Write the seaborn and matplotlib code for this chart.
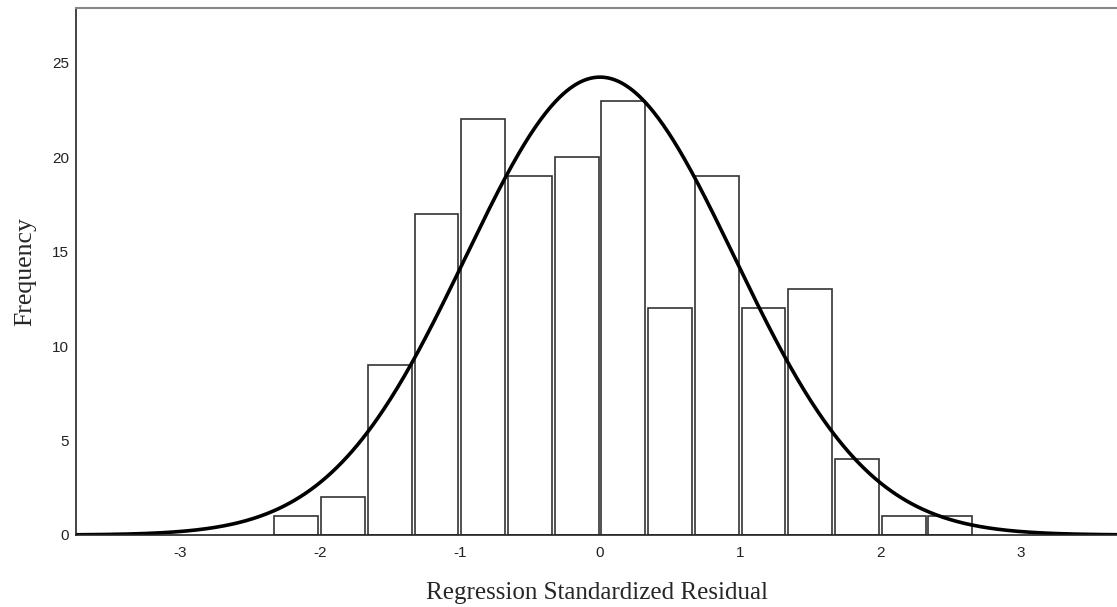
import numpy as np
import pandas as pd
import matplotlib
matplotlib.use("Agg")
import matplotlib.pyplot as plt
import seaborn as sns

# Histogram data (bin edges of width 1/3, counts)
bin_left = [-7/3, -2, -5/3, -4/3, -1, -2/3, -1/3, 0, 1/3, 2/3, 1, 4/3, 5/3, 2, 7/3]
counts = [1, 2, 9, 17, 22, 19, 20, 23, 12, 19, 12, 13, 4, 1, 1]
bin_width = 1/3

# Normal curve parameters (fitted curve overlay)
curve_mean = 0.0
curve_sd = 0.96
n_total = sum(counts)

x_ticks = [-3, -2, -1, 0, 1, 2, 3]
y_ticks = [0, 5, 10, 15, 20, 25]

sns.set_theme(style="white")
plt.rcParams['font.family'] = ['Liberation Sans', 'DejaVu Sans']

fig = plt.figure(figsize=(11.17, 6.07), dpi=100)
ax = fig.add_axes([76/1117, 72/607, 1 - 76/1117, (535-8)/607])

df = pd.DataFrame({"center": np.array(bin_left) + bin_width/2, "count": counts})
edges = list(bin_left) + [bin_left[-1] + bin_width]
sns.histplot(data=df, x="center", weights="count", bins=edges, ax=ax,
             color="white", edgecolor="#333333", linewidth=1.2, alpha=1,
             shrink=0.94)

xs = np.linspace(-3.74, 3.69, 600)
ys = n_total * bin_width * np.exp(-0.5 * ((xs - curve_mean) / curve_sd) ** 2) / (curve_sd * np.sqrt(2 * np.pi))
sns.lineplot(x=xs, y=ys, ax=ax, color="black", linewidth=2.6)

ax.set_xlim(-3.74, 3.69)
ax.set_ylim(0, 27.9)
ax.set_xticks(x_ticks)
ax.set_xticklabels([str(t) for t in x_ticks])
ax.set_yticks(y_ticks)
ax.set_yticklabels([str(t) for t in y_ticks])
ax.tick_params(axis='both', length=0, labelsize=11, colors="#222222")
ax.tick_params(axis='y', pad=5)
ax.tick_params(axis='x', pad=8)

ax.set_xlabel("Regression Standardized Residual", family=['Liberation Serif'], fontsize=18, labelpad=16)
ax.set_ylabel("Frequency", family=['Liberation Serif'], fontsize=18.5, labelpad=11)

for s in ["left", "bottom"]:
    ax.spines[s].set_color("#222222")
    ax.spines[s].set_linewidth(1.2)
ax.spines["top"].set_color("#888888")
ax.spines["top"].set_linewidth(1.5)
ax.spines["right"].set_visible(False)

fig.savefig("out.png", dpi=100, facecolor="white")
